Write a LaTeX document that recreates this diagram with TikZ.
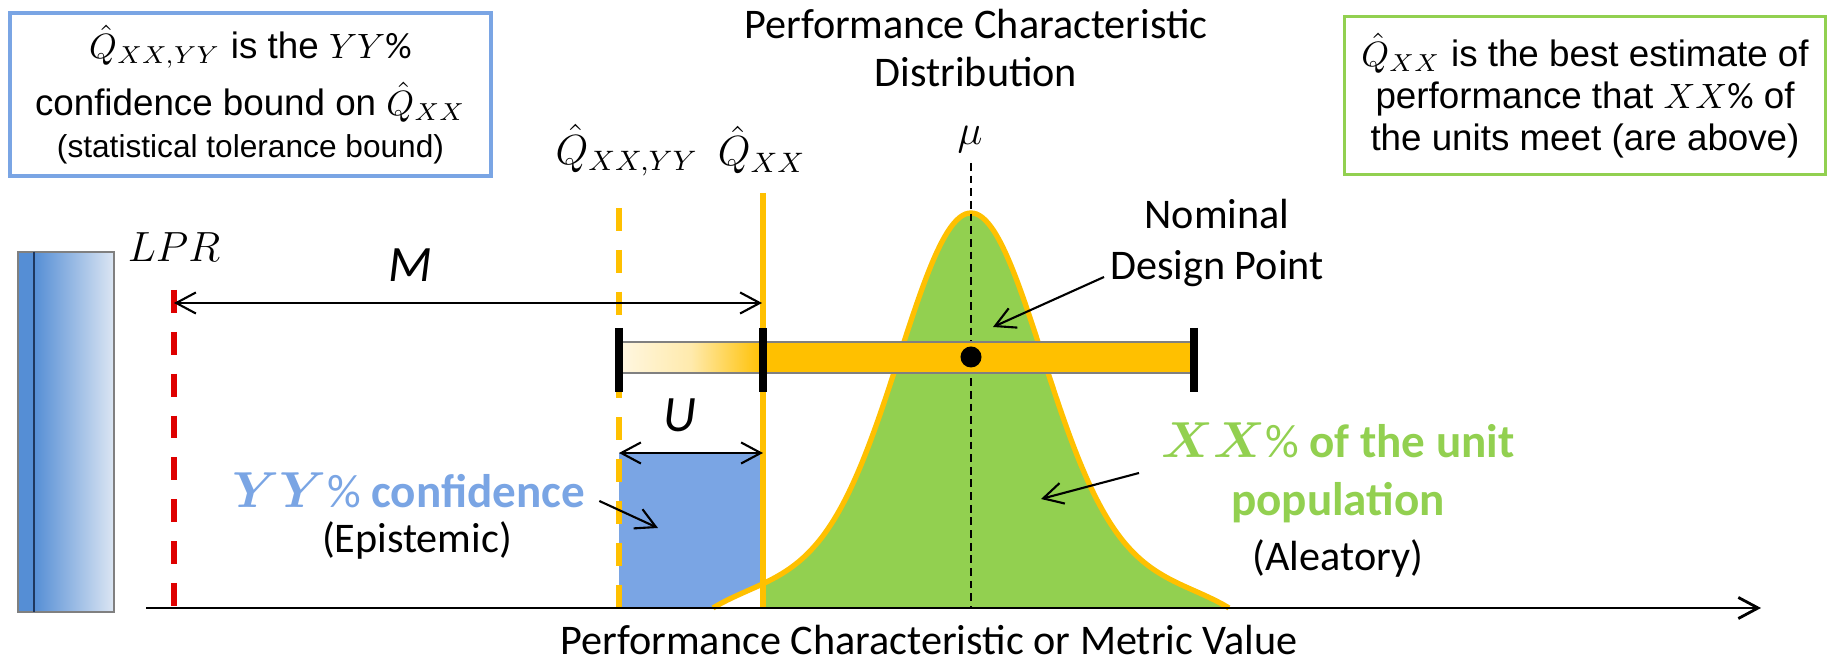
\documentclass[tikz,border=0pt]{standalone}
\usepackage{amsmath}
\usepackage{fontspec}
\setmainfont{Carlito}
\newfontfamily\arialfont{Liberation Sans}
\usetikzlibrary{arrows.meta}
\definecolor{qgold}{RGB}{255,192,0}
\definecolor{popgreen}{RGB}{146,208,80}
\definecolor{confblue}{RGB}{122,165,228}
\definecolor{lprred}{RGB}{222,0,0}
\definecolor{barblue}{RGB}{85,142,213}
\definecolor{barnavy}{RGB}{30,55,95}
\definecolor{barmid}{RGB}{196,211,236}
\definecolor{barpale}{RGB}{220,230,243}
\definecolor{barcream}{RGB}{255,247,226}
\definecolor{barwarm}{RGB}{255,234,172}
\pgfdeclarehorizontalshading{uncfade}{100bp}{color(0bp)=(barcream); color(25bp)=(barcream);
  color(50bp)=(barwarm); color(75bp)=(qgold); color(100bp)=(qgold)}

\begin{document}
\begin{tikzpicture}[x=0.01cm, y=-0.01cm,
    ptr/.style={-{Straight Barb[length=5.6pt,width=6pt]}, line width=0.6pt},
    dimarrow/.style={{Straight Barb[length=5.6pt,width=6pt]}-{Straight Barb[length=5.6pt,width=6pt]}, line width=0.6pt},
    longdash/.style={dash pattern=on 6.5pt off 5.4pt, line width=1.5pt},
    note/.style={draw, line width=1pt, align=center, minimum width=4.81cm, minimum height=1.58cm,
      font=\arialfont\fontsize{10.45}{12}\selectfont},
    lbl/.style={align=center, inner sep=1pt, font=\fontsize{12}{14.4}\selectfont},
    mathlbl/.style={inner sep=1pt, font=\fontsize{11.5}{14}\selectfont},
    barend/.style={line width=2.2pt}]
  \useasboundingbox (0,0) rectangle (1829,665);
  \def\popcurve{plot[domain=-258:258, samples=91, smooth]
    ({971+\x}, {608-395*(0.85*exp(-0.5*(\x/70)^2)+0.15*exp(-0.5*(\x/150)^2)-0.035*(\x/258)^8)})}

  \fill[barblue] (18,252) rectangle (34,612);
  \shade[left color=barblue, middle color=barmid, right color=barpale] (34,252) rectangle (114,612);
  \draw[gray, line width=0.6pt] (18,252) rectangle (114,612);
  \draw[barnavy, line width=0.8pt] (34,252) -- (34,612);

  \fill[confblue] (619,453) rectangle (763,608);
  \begin{scope}
    \clip (763,0) rectangle (1829,608);
    \fill[popgreen] \popcurve -- cycle;
  \end{scope}
  \begin{scope}
    \clip (600,0) rectangle (763,608);
    \fill[white] \popcurve -- cycle;
  \end{scope}
  \draw[qgold, line width=1.5pt] \popcurve;

  \draw[qgold, line width=1.5pt] (763,193) -- (763,608);
  \draw[qgold, longdash] (619,208) -- (619,608);
  \draw[lprred, longdash] (174,290) -- (174,608);
  \draw[dash pattern=on 2.2pt off 1.4pt, line width=0.5pt] (971,163) -- (971,608);

  \shade[shading=uncfade, draw=gray, line width=0.4pt] (619,342) rectangle (763,373);
  \filldraw[fill=qgold, draw=gray, line width=0.4pt] (763,342) rectangle (1191,373);
  \foreach \x in {619,763,1194}
    \draw[barend] (\x,328) -- (\x,392);
  \node[circle, fill, inner sep=0pt, minimum size=0.21cm] (ndp) at (971,357) {};

  \coordinate (ax0) at (146,608);
  \coordinate (ax1) at (1761,608);
  \draw[-{Straight Barb[length=5.6pt,width=6pt]}, line width=0.8pt] (ax0) -- (ax1);

  \node[note, draw=confblue] (lbox) at (250.5,94.5)
    {$\hat{Q}_{XX,YY}$ is the $YY\%$\\[3pt] confidence bound on $\hat{Q}_{XX}$\\
     {\fontsize{9}{10.8}\selectfont (statistical tolerance bound)}};
  \node[note, draw=popgreen] (rbox) at (1585,95.5)
    {$\hat{Q}_{XX}$ is the best estimate of\\ performance that $XX\%$ of\\ the units meet (are above)};
  \node[lbl, font=\fontsize{12}{13.4}\selectfont] (title) at (976,48)
    {Performance Characteristic\\Distribution};

  \node[mathlbl] (qxy) at (627,150) {$\hat{Q}_{XX,YY}$};
  \node[mathlbl] (qxx) at (762,150) {$\hat{Q}_{XX}$};
  \node[mathlbl, font=\fontsize{13}{15}\selectfont] (mu) at (970,140) {$\mu$};
  \node[lbl] (lpr) at (174,247) {$LPR$};

  \coordinate (mL) at (174,303);
  \coordinate (mR) at (762,303);
  \draw[dimarrow] (mL) -- (mR);
  \node[lbl, font=\fontsize{14.5}{16}\selectfont\itshape] (mlab) at (410,265) {M};
  \coordinate (uL) at (619,453);
  \coordinate (uR) at (763,453);
  \draw[dimarrow] (uL) -- (uR);
  \node[lbl, font=\fontsize{14.5}{16}\selectfont\itshape] (ulab) at (680,415) {U};

  \node[lbl, font=\fontsize{12}{14.5}\selectfont] (nom) at (1217,243) {Nominal\\Design Point};
  \node[lbl, font=\fontsize{13.4}{16}\selectfont\bfseries, text=confblue] (yytxt) at (409,490)
    {$\boldsymbol{YY}\%$ confidence};
  \node[lbl] (epi) at (417,540) {(Epistemic)};
  \node[lbl, font=\fontsize{13.4}{16.5}\selectfont\bfseries, text=popgreen] (xxtxt) at (1338,500)
    {$\boldsymbol{XX}\%$ of the unit\\population\\[-1pt]
     {\mdseries\fontsize{12}{14.4}\selectfont\color{black}(Aleatory)}};
  \node[lbl, anchor=base] (axlbl) at (929,655) {Performance Characteristic or Metric Value};

  \coordinate (conftip) at (658,528);
  \coordinate (poptip) at (1041,499);
  \coordinate (dptip) at (993,327);
  \draw[ptr] ([shift={(10,11)}]yytxt.east) -- (conftip);
  \draw[ptr] ([shift={(-18,-27)}]xxtxt.west) -- (poptip);
  \draw[ptr] ([shift={(-2,34)}]nom.west) -- (dptip);
\end{tikzpicture}
\end{document}
